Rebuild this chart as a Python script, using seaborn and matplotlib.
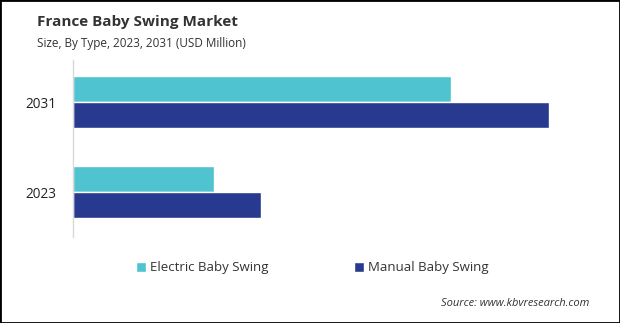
import matplotlib
matplotlib.use("Agg")
import matplotlib.pyplot as plt
import matplotlib.patches as mpatches
import seaborn as sns
import pandas as pd

years = ["2031", "2023"]
types = ["Electric Baby Swing", "Manual Baby Swing"]
electric = [37.8, 14.1]
manual = [47.6, 18.8]
colors = ["#4fc3cf", "#283a8f"]

df = pd.DataFrame({
    "Year": years * 2,
    "Type": [types[0]] * len(years) + [types[1]] * len(years),
    "Value": electric + manual,
})

sns.set_theme(style="white")
plt.rcParams["font.family"] = ["Open Sans", "DejaVu Sans"]

fig = plt.figure(figsize=(6.2, 3.23), dpi=100)
ax = fig.add_axes([73 / 620, 1 - 237 / 323, 517 / 620, 177 / 323])

sns.barplot(data=df, y="Year", x="Value", hue="Type", order=years,
            hue_order=types, palette=colors, orient="h", width=0.578,
            saturation=1, ax=ax, legend=True)

ax.set_xlim(0, 51.7)
ax.set_ylim(1.5, -0.467)
ax.set_xlabel("")
ax.set_ylabel("")
ax.set_xticks([])
for side in ["top", "right", "bottom"]:
    ax.spines[side].set_visible(False)
ax.spines["left"].set_color("#d9d9d9")
ax.spines["left"].set_linewidth(1.0)
ax.tick_params(axis="y", length=0, pad=12, labelsize=9.8, labelcolor="#222222")

handles, labels = ax.get_legend_handles_labels()
ax.get_legend().remove()
fig.legend(handles, labels, loc="center left", bbox_to_anchor=(124 / 620, 1 - 268 / 323),
           ncol=2, frameon=False, fontsize=9.5, handlelength=0.75, handleheight=0.75,
           handletextpad=0.3, columnspacing=6.5, labelcolor="#333333")

fig.text(37 / 620, 1 - 22 / 323, "France Baby Swing Market", fontsize=11,
         fontweight="bold", color="#333333", va="center", ha="left")
fig.text(37 / 620, 1 - 43 / 323, "Size, By Type, 2023, 2031 (USD Million)", fontsize=8.5,
         color="#333333", va="center", ha="left")
fig.text(589 / 620, 1 - 304 / 323, "Source: www.kbvresearch.com", fontsize=8,
         style="italic", color="#333333", va="center", ha="right")

fig.patches.append(mpatches.Rectangle((0, 0), 1, 1, transform=fig.transFigure,
                                      fill=False, edgecolor="black", linewidth=2))

fig.savefig("out.png", dpi=100)
